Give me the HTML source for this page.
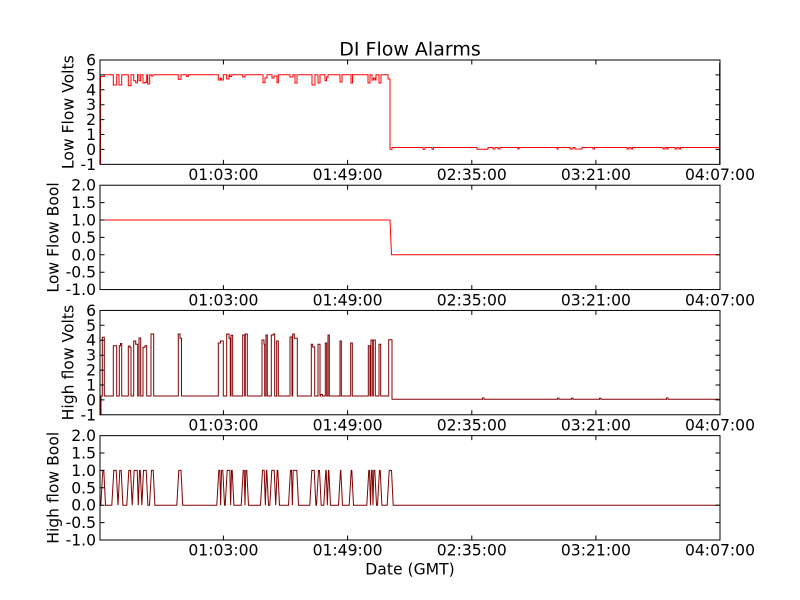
<!DOCTYPE html>
<html>
<head>
<meta charset="utf-8">
<style>
html,body{margin:0;padding:0;background:#fff;}
svg{display:block;}
text{font-family:"DejaVu Sans","Liberation Sans",sans-serif;fill:#000;}
.tk{font-size:15.6px;}
</style>
</head>
<body>
<svg width="800" height="600" viewBox="0 0 800 600" xmlns="http://www.w3.org/2000/svg">
<rect x="0" y="0" width="800" height="600" fill="#fff"/>
<defs>
<clipPath id="c1"><rect x="100" y="60" width="620" height="104.35"/></clipPath>
<clipPath id="c2"><rect x="100" y="185.22" width="620" height="104.35"/></clipPath>
<clipPath id="c3"><rect x="100" y="310.43" width="620" height="104.35"/></clipPath>
<clipPath id="c4"><rect x="100" y="435.65" width="620" height="104.35"/></clipPath>
</defs>

<!-- Title -->
<text x="410" y="55.7" text-anchor="middle" font-size="19">DI Flow Alarms</text>

<!-- ===== Plot 1 data ===== -->
<path clip-path="url(#c1)" fill="none" stroke="#ff0000" stroke-width="1" d="M100.5,165 V76.5 H104.3 V74.8 H113.3 V85 H116.7 V74.8 H119 V85 H121.7 V74.8 H128.3 V85.7 H131 V74.8 H133.7 V80.7 H135.7 V82.7 H137.5 V74.8 H139 V80.7 H140.7 V74.8 H143 V83 H145 V82.5 H146.7 V74.8 H147.7 V84 H149.7 V74.8 H151.3 V76 H153 V74.8 H178.3 V79.3 H181 V74.8 H186.7 V76.5 H188.3 V74.8 H218.3 V80 H220.3 V78 H221.3 V80 H223.3 V74.8 H226.7 V79 H229 V74.8 H230 V76.5 H231.7 V74.8 H242.7 V77 H245 V74.8 H263 V82.7 H265 V78 H267 V74.8 H272 V78 H274 V76 H277 V82.7 H278.3 V74.8 H290 V77 H293 V74.8 H295 V83 H297 V74.8 H312 V85 H315 V74.8 H318 V83 H320 V74.8 H325 V80.7 H326.5 V77 H328 V74.8 H340 V82 H342 V74.8 H351 V83 H352.5 V74.8 H368 V83 H370 V74.8 H372 V80 H373.5 V78 H375 V80 H376 V74.8 H379 V83 H381 V74.8 H388 V79 H390 V149.2 H392 V147.5 H423 V149.2 H425 V147.5 H432 V149.2 H433.5 V147.5 H477 V149.2 H488 V147.5 H493 V149 H495 V147.5 H498 V149 H500 V147.5 H518 V149 H519 V147.5 H557 V149 H558 V147.5 H570 V149 H573 V147.5 H575 V149 H582 V147.5 H593 V149 H594.5 V147.5 H627 V149 H629 V147.5 H631 V149 H632.5 V147.5 H663 V149 H665 V147.5 H667 V149 H668 V147.5 H675 V149 H677 V147.5 H679 V149 H680.5 V147.5 H719.5 V165 M719.5,164 V63"/>

<!-- ===== Plot 2 data ===== -->
<path clip-path="url(#c2)" fill="none" stroke="#ff0000" stroke-width="1" d="M100,220 H390 L391.5,254.8 H720"/>

<!-- ===== Plot 3 data ===== -->
<path clip-path="url(#c3)" fill="none" stroke="#800000" stroke-width="1" d="M101,415 V396 H102.3 V337.3 H104.3 V396 H113.3 V345.7 H116.7 V396 H119.3 V345.7 H120.5 V343.5 H121.7 V396 H128.3 V346 H130 V347.5 H131 V396 H133.7 V341 H135.7 V344.3 H137.7 V396 H139 V338 H140.7 V396 H143 V347.3 H145 V345.7 H146.7 V396 H151 V334 H153.7 V396 H178.3 V334 H180 V338.3 H181.5 V396 H218.3 V343 H220.5 V341 H223.3 V396 H226.7 V334 H229 V338.3 H230.3 V396 H231 V335.3 H232.7 V396 H242.7 V335 H244.7 V396 H245.3 V334 H247.3 V396 H262 V340 H264 V344.3 H264.7 V396 H266 V335 H267.3 V396 H271.3 V335 H273.3 V334 H274.7 V396 H276.7 V341 H278.3 V396 H290 V337 H292 V396 H292.7 V334 H294.3 V338.3 H297.3 V396 H311.3 V344.3 H312.7 V347 H314.7 V396 H318 V344.3 H320 V396 H320.5 V394.5 H322.5 V396 H325.3 V343 H326.7 V396 H328 V335 H329.3 V396 H340 V341 H341.3 V396 H350.7 V343 H352.3 V396 H368.3 V345.7 H370 V396 H371 V340 H372.7 V396 H373.3 V340 H375.3 V396 H379 V344.3 H380.7 V396 H388.7 V339.7 H392 V399.3 H482.5 V398 H484 V399.3 H557.5 V398.3 H559 V399.3 H571.5 V398.3 H573 V399.3 H599.5 V398.3 H601 V399.3 H666.5 V398 H668 V399.3 H720"/>

<!-- ===== Plot 4 data ===== -->
<path clip-path="url(#c4)" fill="none" stroke="#800000" stroke-width="1" d="M100,505.2 L100.8,505.2 L102.8,470.4 L103.8,470.4 L105.5,505.2 L111.8,505.2 L113.8,470.4 L116.2,470.4 L118,505.2 L119.8,470.4 L121.2,470.4 L122.9,505.2 L126.8,505.2 L128.8,470.4 L130.5,470.4 L132.2,505.2 L134.2,470.4 L137.2,470.4 L138.3,505.2 L139.5,470.4 L140.2,470.4 L141.9,505.2 L143.5,470.4 L146.2,470.4 L147.9,505.2 L149.5,505.2 L151.5,470.4 L153.2,470.4 L154.9,505.2 L176.8,505.2 L178.8,470.4 L181,470.4 L182.7,505.2 L216.8,505.2 L218.8,470.4 L219.8,470.4 L220.65,505.2 L221.5,470.4 L222.8,470.4 L224.5,505.2 L225.2,505.2 L227.2,470.4 L229.8,470.4 L230.65,505.2 L231.5,470.4 L232.2,470.4 L233.9,505.2 L241.2,505.2 L243.2,470.4 L244.2,470.4 L245,505.2 L245.8,470.4 L246.8,470.4 L248.5,505.2 L260.5,505.2 L262.5,470.4 L264.2,470.4 L265.35,505.2 L266.5,470.4 L266.8,470.4 L268.5,505.2 L269.8,505.2 L271.8,470.4 L274.2,470.4 L275.7,505.2 L277.2,470.4 L277.8,470.4 L279.5,505.2 L288.5,505.2 L290.5,470.4 L291.5,470.4 L292.35,505.2 L293.2,470.4 L296.8,470.4 L298.5,505.2 L309.8,505.2 L311.8,470.4 L314.2,470.4 L315.9,505.2 L316.5,505.2 L318.5,470.4 L319.5,470.4 L321.2,505.2 L323.8,505.2 L325.8,470.4 L326.2,470.4 L327.35,505.2 L328.5,470.4 L328.8,470.4 L330.5,505.2 L338.5,505.2 L340.5,470.4 L340.8,470.4 L342.5,505.2 L349.2,505.2 L351.2,470.4 L351.8,470.4 L353.5,505.2 L366.8,505.2 L368.8,470.4 L369.5,470.4 L370.5,505.2 L371.5,470.4 L372.2,470.4 L373,505.2 L373.8,470.4 L374.8,470.4 L376.5,505.2 L377.5,505.2 L379.5,470.4 L380.2,470.4 L381.9,505.2 L387.2,505.2 L389.2,470.4 L391.5,470.4 L393.2,505.2 L720,505.2"/>

<!-- ===== Frames ===== -->
<g fill="none" stroke="#000" stroke-width="1">
<rect x="100" y="60" width="620" height="104.35"/>
<rect x="100" y="185.22" width="620" height="104.35"/>
<rect x="100" y="310.43" width="620" height="104.35"/>
<rect x="100" y="435.65" width="620" height="104.35"/>
</g>

<!-- ===== Ticks ===== -->
<g stroke="#000" stroke-width="1" fill="none">
<!-- x ticks plot1 -->
<path d="M223.4,164.35 v-4.5 M347.6,164.35 v-4.5 M471.8,164.35 v-4.5 M595.9,164.35 v-4.5 M223.4,60 v4.5 M347.6,60 v4.5 M471.8,60 v4.5 M595.9,60 v4.5"/>
<path d="M223.4,289.57 v-4.5 M347.6,289.57 v-4.5 M471.8,289.57 v-4.5 M595.9,289.57 v-4.5 M223.4,185.22 v4.5 M347.6,185.22 v4.5 M471.8,185.22 v4.5 M595.9,185.22 v4.5"/>
<path d="M223.4,414.78 v-4.5 M347.6,414.78 v-4.5 M471.8,414.78 v-4.5 M595.9,414.78 v-4.5 M223.4,310.43 v4.5 M347.6,310.43 v4.5 M471.8,310.43 v4.5 M595.9,310.43 v4.5"/>
<path d="M223.4,540 v-4.5 M347.6,540 v-4.5 M471.8,540 v-4.5 M595.9,540 v-4.5 M223.4,435.65 v4.5 M347.6,435.65 v4.5 M471.8,435.65 v4.5 M595.9,435.65 v4.5"/>
<!-- y ticks plot1 -->
<path d="M100,74.9 h4.5 M100,89.8 h4.5 M100,104.7 h4.5 M100,119.6 h4.5 M100,134.5 h4.5 M100,149.4 h4.5 M720,74.9 h-4.5 M720,89.8 h-4.5 M720,104.7 h-4.5 M720,119.6 h-4.5 M720,134.5 h-4.5 M720,149.4 h-4.5"/>
<path d="M100,202.6 h4.5 M100,220 h4.5 M100,237.4 h4.5 M100,254.8 h4.5 M100,272.2 h4.5 M720,202.6 h-4.5 M720,220 h-4.5 M720,237.4 h-4.5 M720,254.8 h-4.5 M720,272.2 h-4.5"/>
<path d="M100,325.3 h4.5 M100,340.2 h4.5 M100,355.2 h4.5 M100,370.1 h4.5 M100,385 h4.5 M100,399.9 h4.5 M720,325.3 h-4.5 M720,340.2 h-4.5 M720,355.2 h-4.5 M720,370.1 h-4.5 M720,385 h-4.5 M720,399.9 h-4.5"/>
<path d="M100,453 h4.5 M100,470.4 h4.5 M100,487.8 h4.5 M100,505.2 h4.5 M100,522.6 h4.5 M720,453 h-4.5 M720,470.4 h-4.5 M720,487.8 h-4.5 M720,505.2 h-4.5 M720,522.6 h-4.5"/>
</g>

<!-- ===== Y tick labels ===== -->
<g class="tk" text-anchor="end">
<text x="96" y="65.5">6</text>
<text x="96" y="80.4">5</text>
<text x="96" y="95.3">4</text>
<text x="96" y="110.2">3</text>
<text x="96" y="125.1">2</text>
<text x="96" y="140">1</text>
<text x="96" y="154.9">0</text>
<text x="96" y="169.9">-1</text>

<text x="96" y="190.7">2.0</text>
<text x="96" y="208.1">1.5</text>
<text x="96" y="225.5">1.0</text>
<text x="96" y="242.9">0.5</text>
<text x="96" y="260.3">0.0</text>
<text x="96" y="277.7">-0.5</text>
<text x="96" y="295.1">-1.0</text>

<text x="96" y="315.9">6</text>
<text x="96" y="330.8">5</text>
<text x="96" y="345.7">4</text>
<text x="96" y="360.7">3</text>
<text x="96" y="375.6">2</text>
<text x="96" y="390.5">1</text>
<text x="96" y="405.4">0</text>
<text x="96" y="420.3">-1</text>

<text x="96" y="441.2">2.0</text>
<text x="96" y="458.5">1.5</text>
<text x="96" y="475.9">1.0</text>
<text x="96" y="493.3">0.5</text>
<text x="96" y="510.7">0.0</text>
<text x="96" y="528.1">-0.5</text>
<text x="96" y="545.5">-1.0</text>
</g>

<!-- ===== X tick labels ===== -->
<g class="tk" text-anchor="middle">
<text x="223.4" y="180">01:03:00</text>
<text x="347.6" y="180">01:49:00</text>
<text x="471.8" y="180">02:35:00</text>
<text x="595.9" y="180">03:21:00</text>
<text x="720" y="180">04:07:00</text>

<text x="223.4" y="305.3">01:03:00</text>
<text x="347.6" y="305.3">01:49:00</text>
<text x="471.8" y="305.3">02:35:00</text>
<text x="595.9" y="305.3">03:21:00</text>
<text x="720" y="305.3">04:07:00</text>

<text x="223.4" y="430.5">01:03:00</text>
<text x="347.6" y="430.5">01:49:00</text>
<text x="471.8" y="430.5">02:35:00</text>
<text x="595.9" y="430.5">03:21:00</text>
<text x="720" y="430.5">04:07:00</text>

<text x="223.4" y="555.7">01:03:00</text>
<text x="347.6" y="555.7">01:49:00</text>
<text x="471.8" y="555.7">02:35:00</text>
<text x="595.9" y="555.7">03:21:00</text>
<text x="720" y="555.7">04:07:00</text>
</g>

<!-- ===== Axis labels ===== -->
<g class="tk" text-anchor="middle">
<text transform="translate(73.5,112.2) rotate(-90)">Low Flow Volts</text>
<text transform="translate(58.5,237.4) rotate(-90)">Low Flow Bool</text>
<text transform="translate(73.5,362.6) rotate(-90)">High flow Volts</text>
<text transform="translate(58.5,487.8) rotate(-90)">High flow Bool</text>
<text x="410" y="574.3">Date (GMT)</text>
</g>
</svg>
</body>
</html>
